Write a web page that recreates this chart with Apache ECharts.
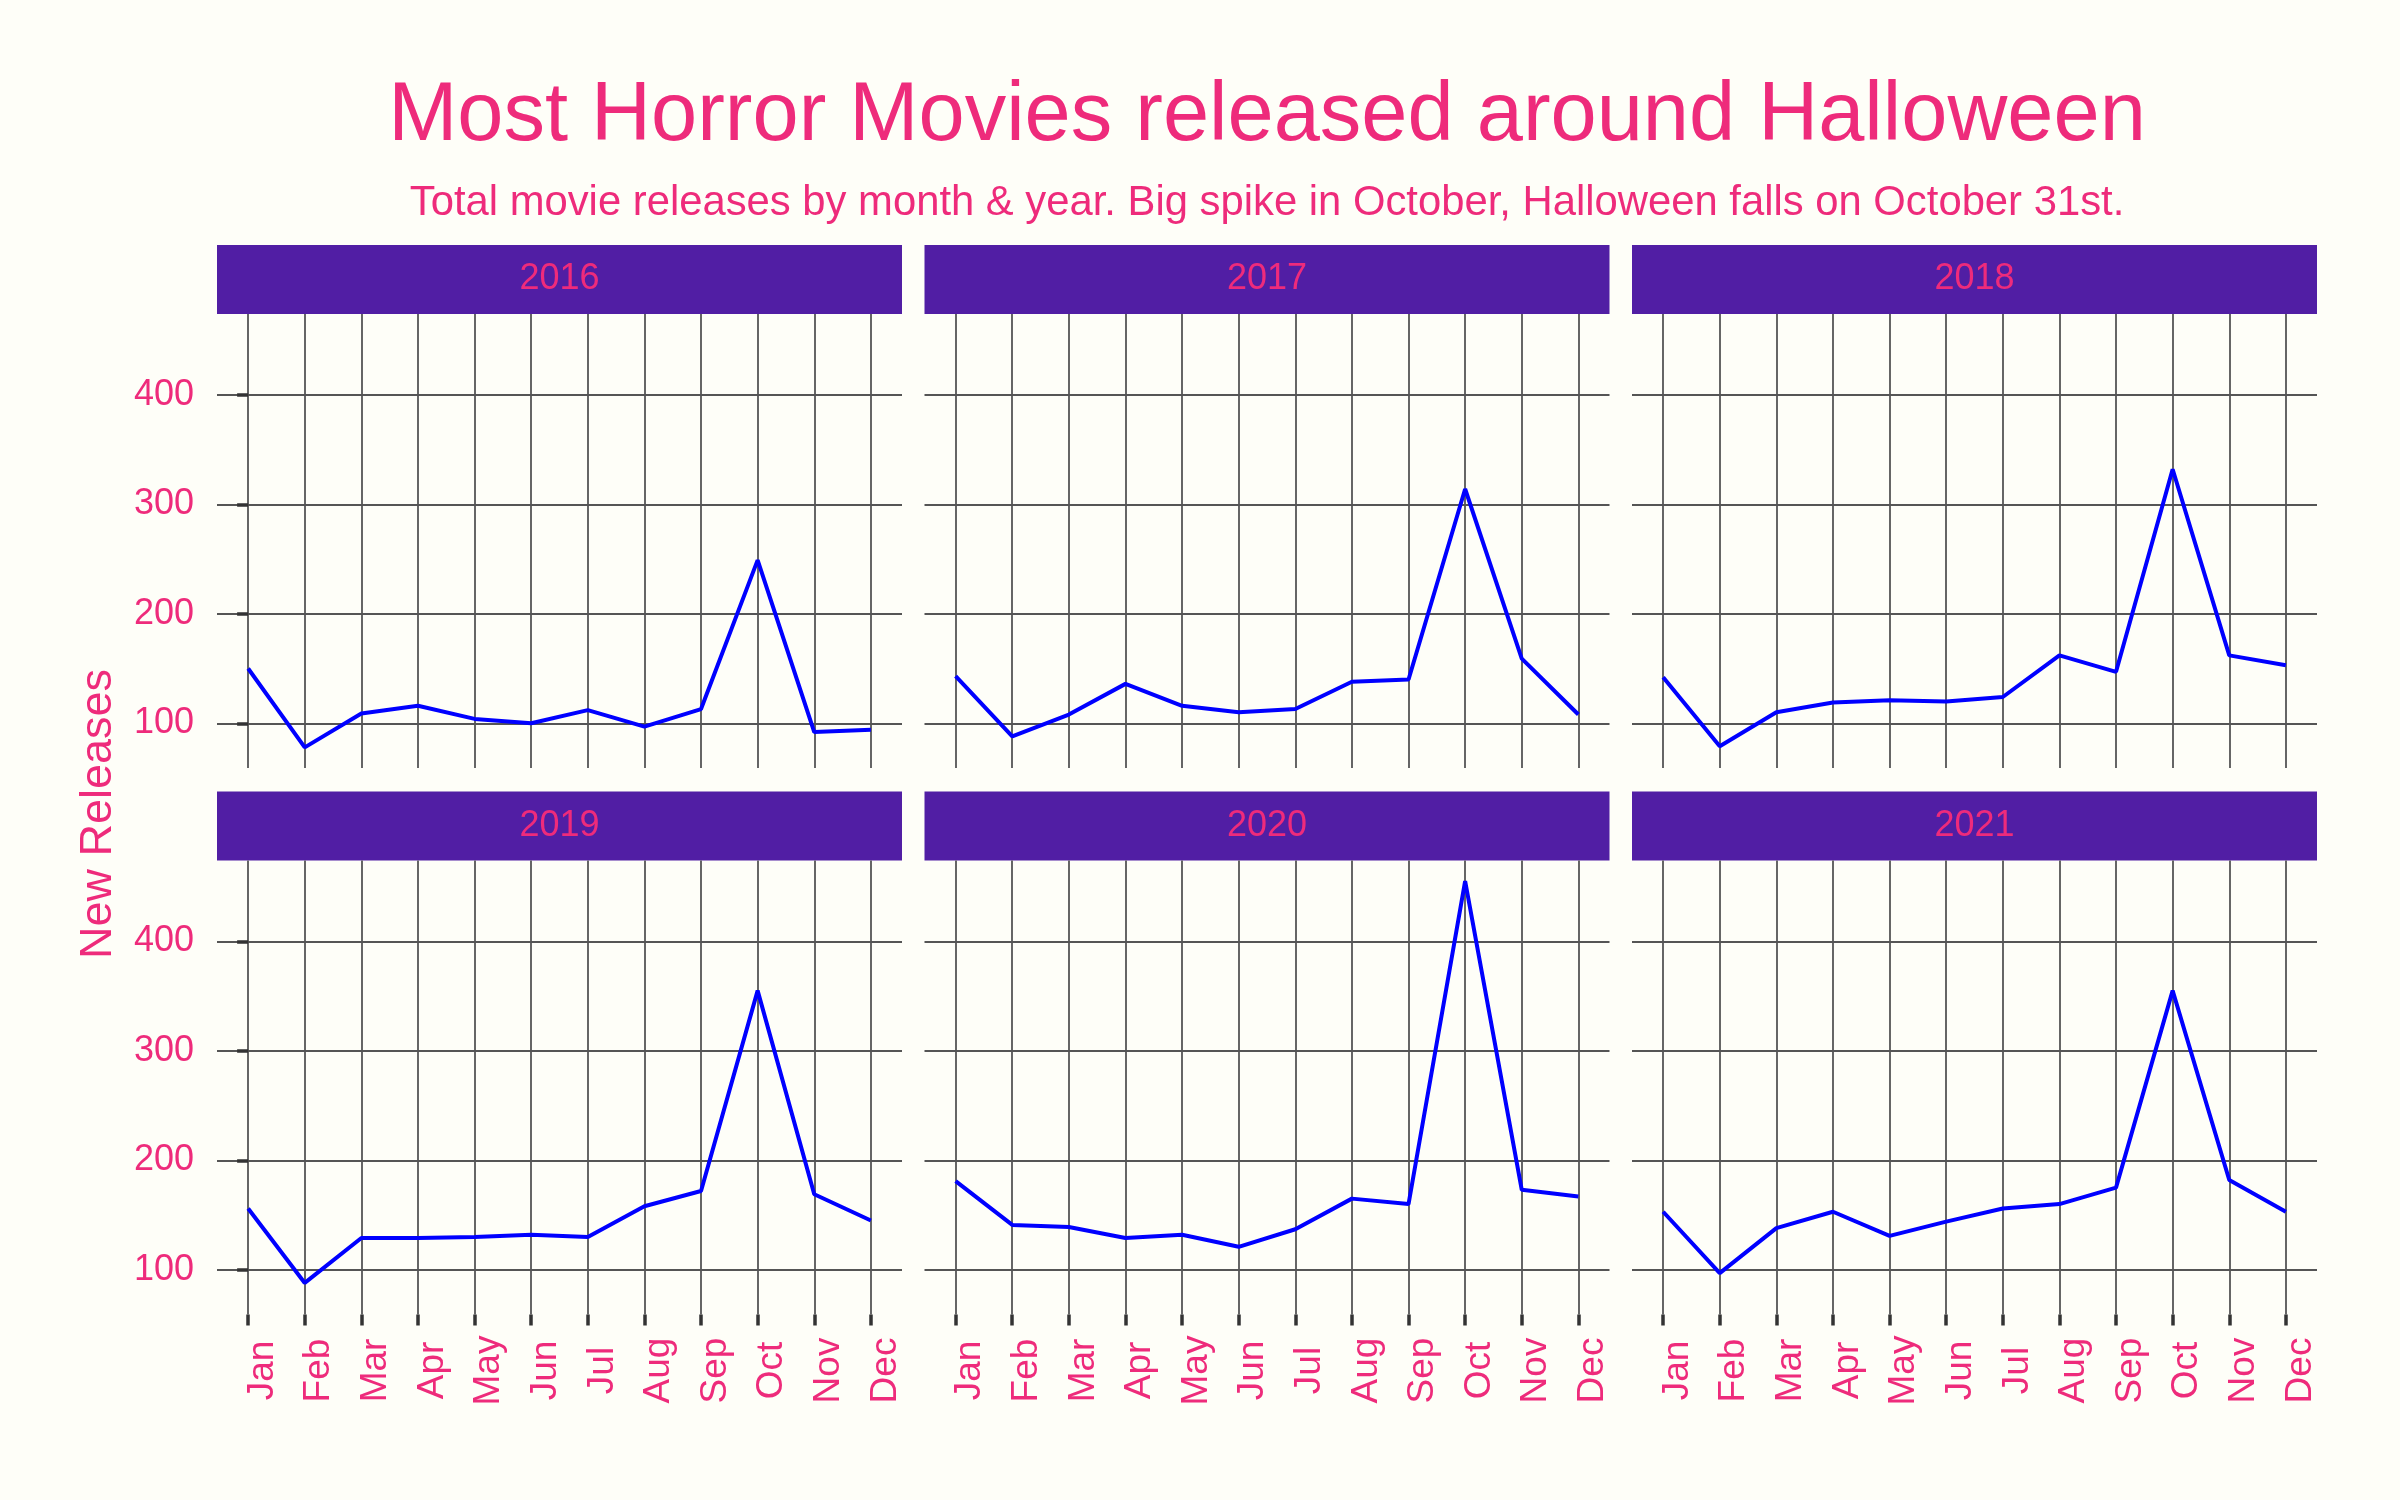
<!DOCTYPE html>
<html>
<head>
<meta charset="utf-8">
<title>Most Horror Movies released around Halloween</title>
<script src="https://cdn.jsdelivr.net/npm/echarts@6/dist/echarts.min.js"></script>
<style>
  html, body { margin: 0; padding: 0; background: #FEFEF8; }
  #chart { width: 2400px; height: 1500px; }
</style>
</head>
<body>
<div id="chart"></div>
<script>
// x axis categories
const months = ['Jan', 'Feb', 'Mar', 'Apr', 'May', 'Jun', 'Jul', 'Aug', 'Sep', 'Oct', 'Nov', 'Dec']
const years = ['2016', '2017', '2018', '2019', '2020', '2021']

// new horror releases per month
const releases2016 = [150, 78, 109, 116, 104, 100, 112, 97, 113, 249, 92, 94]
const releases2017 = [143, 88, 108, 136, 116, 110, 113, 138, 140, 314, 159, 108]
const releases2018 = [142, 79, 110, 119, 121, 120, 124, 162, 147, 332, 162, 153]
const releases2019 = [156, 88, 129, 129, 130, 132, 130, 158, 172, 355, 169, 145]
const releases2020 = [181, 141, 139, 129, 132, 121, 137, 165, 160, 455, 173, 167]
const releases2021 = [153, 97, 138, 153, 131, 144, 156, 160, 175, 355, 182, 153]

// y axis tick labels
const yTicks = [100, 200, 300, 400]

const seriesByYear = [releases2016, releases2017, releases2018, releases2019, releases2020, releases2021]

const pink = '#EE2B7B'
const stripColor = '#511EA4'
const gridColor = '#555555'
const tickColor = '#333333'
const font = "'Liberation Sans', Arial, sans-serif"

// facet layout (px)
const panelLeft = [217, 924.5, 1632]
const panelTop = [314, 860.5]
const panelW = 685
const panelH = 454
const stripH = 69

// shared y scale, ggplot style 5% expansion
const allValues = [].concat(...seriesByYear)
const lo = Math.min(...allValues)
const hi = Math.max(...allValues)
const pad = (hi - lo) * 0.05
const yMin = lo - pad
const yMax = hi + pad

const monthIdx = months.map((m, i) => i)

const grid = []
const xAxis = []
const yAxis = []
const series = []
const graphic = []

years.forEach((year, i) => {
  const col = i % 3
  const row = Math.floor(i / 3)
  const left = panelLeft[col]
  const top = panelTop[row]

  grid.push({ left: left, top: top, width: panelW, height: panelH, containLabel: false })

  xAxis.push({
    gridIndex: i,
    type: 'value',
    min: -0.55,
    max: 11.55,
    axisLine: { show: false },
    axisTick: {
      show: row === 1,
      customValues: monthIdx,
      length: 11,
      lineStyle: { color: tickColor, width: 3.5 }
    },
    axisLabel: {
      show: row === 1,
      customValues: monthIdx,
      formatter: v => months[Math.round(v)],
      rotate: 90,
      align: 'center',
      verticalAlign: 'top',
      lineHeight: 29,
      margin: 56,
      color: pink,
      fontSize: 37,
      fontFamily: font
    },
    splitLine: { show: true, lineStyle: { color: gridColor, width: 1.8 } }
  })

  yAxis.push({
    gridIndex: i,
    type: 'value',
    min: yMin,
    max: yMax,
    axisLine: { show: false },
    axisTick: {
      show: col === 0,
      customValues: yTicks,
      length: 11,
      lineStyle: { color: tickColor, width: 3.5 }
    },
    axisLabel: {
      show: col === 0,
      customValues: yTicks,
      margin: 23,
      color: pink,
      fontSize: 36,
      fontFamily: font
    },
    splitLine: { show: true, lineStyle: { color: gridColor, width: 1.8 } }
  })

  series.push({
    name: year,
    type: 'line',
    xAxisIndex: i,
    yAxisIndex: i,
    data: seriesByYear[i].map((v, k) => [k, v]),
    symbol: 'none',
    lineStyle: { color: '#0000FF', width: 4 },
    itemStyle: { color: '#0000FF' },
    z: 5
  })

  // facet strip
  graphic.push({
    type: 'rect',
    shape: { x: left, y: top - stripH, width: panelW, height: stripH },
    style: { fill: stripColor }
  })
  graphic.push({
    type: 'text',
    x: left + panelW / 2,
    y: top - stripH / 2,
    style: {
      text: year,
      fill: pink,
      fontSize: 36,
      fontFamily: font,
      align: 'center',
      verticalAlign: 'middle'
    }
  })
})

// y axis title
graphic.push({
  type: 'text',
  x: 99,
  y: 814,
  rotation: Math.PI / 2,
  style: {
    text: 'New Releases',
    fill: pink,
    fontSize: 45,
    fontFamily: font,
    align: 'center',
    verticalAlign: 'middle'
  }
})

const chart = echarts.init(document.getElementById('chart'))
chart.setOption({
  backgroundColor: '#FEFEF8',
  animation: false,
  textStyle: { fontFamily: font },
  title: [
    {
      text: 'Most Horror Movies released around Halloween',
      left: 1267,
      top: 76,
      textAlign: 'center',
      padding: 0,
      textStyle: { fontSize: 83, lineHeight: 83, color: pink, fontWeight: 'normal', fontFamily: font }
    },
    {
      text: 'Total movie releases by month & year. Big spike in October, Halloween falls on October 31st.',
      left: 1267,
      top: 182,
      textAlign: 'center',
      padding: 0,
      textStyle: { fontSize: 41.8, lineHeight: 42, color: pink, fontWeight: 'normal', fontFamily: font }
    }
  ],
  grid: grid,
  xAxis: xAxis,
  yAxis: yAxis,
  series: series,
  graphic: graphic
})
</script>
</body>
</html>
